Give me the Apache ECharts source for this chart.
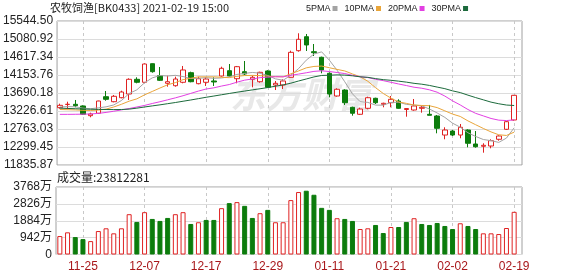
<!DOCTYPE html>
<html><head><meta charset="utf-8">
<script src="https://cdn.jsdelivr.net/npm/echarts@6/dist/echarts.min.js"></script>
<style>html,body{margin:0;padding:0;background:#fff}#c{width:578px;height:276px}</style>
</head><body><div id="c"></div>
<script>
const titleText = '农牧饲渔[BK0433] 2021-02-19 15:00';
const volumeTitle = '成交量:23812281';
const dates = ['2020-11-20','2020-11-23','2020-11-24','2020-11-25','2020-11-26','2020-11-27','2020-11-30','2020-12-01','2020-12-02','2020-12-03',
  '2020-12-04','2020-12-07','2020-12-08','2020-12-09','2020-12-10','2020-12-11','2020-12-14','2020-12-15','2020-12-16','2020-12-17',
  '2020-12-18','2020-12-21','2020-12-22','2020-12-23','2020-12-24','2020-12-25','2020-12-28','2020-12-29','2020-12-30','2020-12-31',
  '2021-01-04','2021-01-05','2021-01-06','2021-01-07','2021-01-08','2021-01-11','2021-01-12','2021-01-13','2021-01-14','2021-01-15',
  '2021-01-18','2021-01-19','2021-01-20','2021-01-21','2021-01-22','2021-01-25','2021-01-26','2021-01-27','2021-01-28','2021-01-29',
  '2021-02-01','2021-02-02','2021-02-03','2021-02-04','2021-02-05','2021-02-08','2021-02-09','2021-02-10','2021-02-18','2021-02-19'];
const opens = [13312,13395,13399,13356,13106,13168,13595,13466,13569,13664,
  14043,13966,14445,14136,13940,13878,13966,14213,13930,13966,
  14000,14128,14265,14058,14239,14043,13981,14257,13896,13896,
  14095,14780,15140,14754,14610,14198,13613,13767,13322,13142,
  13296,13554,13399,13440,13484,13265,13252,13296,13142,13098,
  12608,12711,12608,12737,12377,12318,12325,12498,12755,12995];
const closes = [13373,13400,13363,13142,13150,13484,13528,13605,13716,14043,
  13966,14437,14239,14017,13981,14050,14283,13981,14058,14050,
  13974,14326,14128,14368,14180,14095,14223,13837,13940,14000,
  14738,15073,14927,14728,14282,13664,13786,13440,13168,13278,
  13569,13440,13425,13528,13296,13290,13356,13322,13116,12781,
  12737,12608,12807,12395,12307,12343,12462,12583,12951,13631];
const lows = [13286,13270,13322,13124,13065,13160,13492,13450,13553,13510,
  13940,13955,14213,14000,13853,13853,13940,13966,13914,13871,
  13871,14110,14110,13940,14154,13837,13955,13827,13767,13793,
  14090,14754,14772,14643,14198,13580,13595,13381,13106,13124,
  13270,13407,13322,13322,13286,13080,13235,13183,13116,12652,
  12498,12582,12524,12292,12282,12153,12266,12462,12737,12977];
const highs = [13415,13466,13510,13373,13183,13490,13742,13639,13749,14069,
  14095,14450,14450,14360,14136,14110,14386,14239,14110,14095,
  14095,14368,14437,14386,14514,14136,14239,14275,14000,14043,
  14780,15228,15210,14952,14626,14223,13811,13786,13338,13312,
  13595,13569,13440,13613,13528,13295,13536,13356,13382,13124,
  12807,12737,12892,12755,12711,12395,12498,12601,12970,13639];
const volumes = [1030,1237,973,860,748,1310,1462,1181,1462,2250,
  1817,2362,1985,1873,2041,2250,2362,1704,1800,1929,
  1929,2587,2868,2924,2716,2041,2306,2491,1800,1800,
  3037,3487,3560,3335,2604,2491,2025,1985,1873,1423,
  1462,1648,1198,1535,1535,1817,2025,1704,1648,1760,
  1592,1423,1743,1592,1423,1181,1181,1142,1479,2381.2281];
const ma5 = [13330,13340,13335,13300,13286,13308,13334,13382,13497,13677,
  13772,13953,14080,14140,14128,14145,14114,14062,14071,14084,
  14069,14078,14107,14169,14195,14219,14199,14141,14055,14019,
  14148,14318,14536,14693,14750,14535,14277,13980,13668,13467,
  13448,13379,13376,13448,13452,13397,13380,13360,13278,13176,
  13062,12913,12810,12666,12571,12492,12463,12418,12529,12794];
const ma10 = [13265,13260,13255,13245,13240,13250,13275,13330,13400,13480,
  13539,13643,13730,13818,13902,13958,14034,14071,14106,14106,
  14107,14096,14085,14120,14140,14144,14138,14124,14112,14107,
  14184,14258,14338,14374,14384,14341,14298,14258,14181,14108,
  13992,13828,13678,13558,13459,13423,13380,13369,13363,13314,
  13231,13147,13086,12972,12873,12777,12688,12614,12597,12682];
const ma20 = [13140,13140,13142,13145,13150,13165,13190,13220,13255,13290,
  13330,13370,13420,13465,13515,13565,13620,13680,13740,13793,
  13823,13869,13908,13969,14021,14051,14086,14098,14109,14107,
  14145,14177,14211,14247,14262,14243,14218,14191,14146,14108,
  14088,14043,14008,13966,13922,13882,13839,13813,13772,13711,
  13611,13488,13382,13265,13166,13100,13034,12991,12980,12998];
const ma30 = [13300,13292,13285,13278,13272,13268,13265,13263,13265,13275,
  13300,13330,13358,13385,13415,13445,13478,13510,13545,13580,
  13612,13645,13678,13710,13740,13770,13800,13830,13865,13898,
  13943,13999,14051,14104,14142,14148,14157,14151,14133,14107,
  14094,14061,14034,14017,13995,13970,13939,13917,13885,13843,
  13802,13745,13701,13635,13572,13514,13455,13413,13380,13368];
const priceTicks = ['11835.87','12299.45','12763.03','13226.61','13690.18','14153.76','14617.34','15080.92','15544.50'];
const volumeTicks = ['0','942万','1884万','2826万','3768万'];
const volumeMax = 3768;
const maNames = ['5PMA','10PMA','20PMA','30PMA'];

const RED = '#df2222', GREEN = '#0c7c0c';
const maColors = ['#a3a3a3','#e9a53a','#e23fe2','#1c6a3c'];
const FONT = '"Liberation Sans", "Noto Sans CJK SC", sans-serif';

const candleData = dates.map((d, i) => [opens[i], closes[i], lows[i], highs[i]]);
const volData = volumes.map((v, i) => {
  const ref = i > 0 ? closes[i - 1] : opens[i];
  const up = closes[i] >= ref;
  return { value: v, itemStyle: up ? { color: '#fff', borderColor: RED, borderWidth: 1 } : { color: GREEN, borderColor: GREEN, borderWidth: 1 } };
});
const labelEvery = (idx) => (idx - 3) % 8 === 0;

const chart = echarts.init(document.getElementById('c'), null, { renderer: 'canvas' });
const bandLeft = 59.85, bandWidth = 454.3;
chart.setOption({
  animation: false,
  backgroundColor: '#fff',
  textStyle: { fontFamily: FONT },
  graphic: [
    { type: 'text', left: 230, top: 76, z: 0, silent: true,
      style: { text: '东方财富', fill: '#e8e8e8', font: 'italic bold 36px "Noto Sans CJK SC"' } },
    { type: 'text', left: 50, top: 2, style: { text: titleText, fill: '#222', font: '11px "Noto Sans CJK SC"' } },
    { type: 'text', left: 57, top: 171, style: { text: volumeTitle, fill: '#222', font: '12px "Noto Sans CJK SC"' } }
  ],
  legend: {
    data: maNames, left: 306, top: 4, icon: 'rect', itemWidth: 5, itemHeight: 5, itemGap: 7,
    align: 'right', padding: 0, textStyle: { fontSize: 9, color: '#222', fontFamily: FONT, padding: [0, -3, 0, 0] }
  },
  grid: [
    { left: 56, width: 466, top: 21, height: 144, show: true, borderColor: '#a0a0a0', borderWidth: 1 },
    { left: bandLeft, width: bandWidth, top: 21, height: 144 },
    { left: 56, width: 466, top: 187, height: 67.5, show: true, borderColor: '#a0a0a0', borderWidth: 1 },
    { left: bandLeft, width: bandWidth, top: 187, height: 67.5 }
  ],
  xAxis: [
    { gridIndex: 0, type: 'value', min: 0, max: 1, show: false },
    { gridIndex: 1, type: 'category', data: dates, boundaryGap: false,
      axisLine: { show: false }, axisTick: { show: false }, axisLabel: { show: false },
      splitLine: { show: true, interval: labelEvery, lineStyle: { color: '#c8c8c8', type: [3, 3] } } },
    { gridIndex: 2, type: 'value', min: 0, max: 1, show: false },
    { gridIndex: 3, type: 'category', data: dates, boundaryGap: false,
      axisLine: { show: false }, axisTick: { show: false },
      axisLabel: { show: true, interval: labelEvery, color: '#a8171a', fontSize: 12, fontFamily: FONT, margin: 6,
        formatter: (v) => v.slice(5) },
      splitLine: { show: true, interval: labelEvery, lineStyle: { color: '#c8c8c8', type: [3, 3] } } }
  ],
  yAxis: [
    { gridIndex: 0, type: 'value', min: 0, max: priceTicks.length - 1, interval: 1,
      axisLine: { show: false }, axisTick: { show: false },
      axisLabel: { color: '#222', fontSize: 12, fontFamily: FONT, margin: 4, formatter: (v) => priceTicks[Math.round(v)] },
      splitLine: { lineStyle: { color: '#dcdcdc' } } },
    { gridIndex: 1, type: 'value', min: parseFloat(priceTicks[0]), max: parseFloat(priceTicks[priceTicks.length - 1]), show: false },
    { gridIndex: 2, type: 'value', min: 0, max: volumeTicks.length - 1, interval: 1,
      axisLine: { show: false }, axisTick: { show: false },
      axisLabel: { color: '#222', fontSize: 12, fontFamily: FONT, margin: 4, formatter: (v) => volumeTicks[Math.round(v)] },
      splitLine: { lineStyle: { color: '#dcdcdc' } } },
    { gridIndex: 3, type: 'value', min: 0, max: volumeMax, show: false }
  ],
  series: [
    { type: 'candlestick', name: 'K', xAxisIndex: 1, yAxisIndex: 1, data: candleData, barWidth: 5, clip: false,
      itemStyle: { color: '#fff', color0: GREEN, borderColor: RED, borderColor0: GREEN, borderWidth: 1 } },
    ...[ma5, ma10, ma20, ma30].map((arr, k) => ({
      type: 'line', name: maNames[k], xAxisIndex: 1, yAxisIndex: 1, data: arr, symbol: 'none', showSymbol: false,
      color: maColors[k], lineStyle: { width: 1, color: maColors[k] }, z: 3
    })),
    { type: 'bar', name: 'VOL', xAxisIndex: 3, yAxisIndex: 3, data: volData, barWidth: 5, clip: false }
  ]
});
</script></body></html>
